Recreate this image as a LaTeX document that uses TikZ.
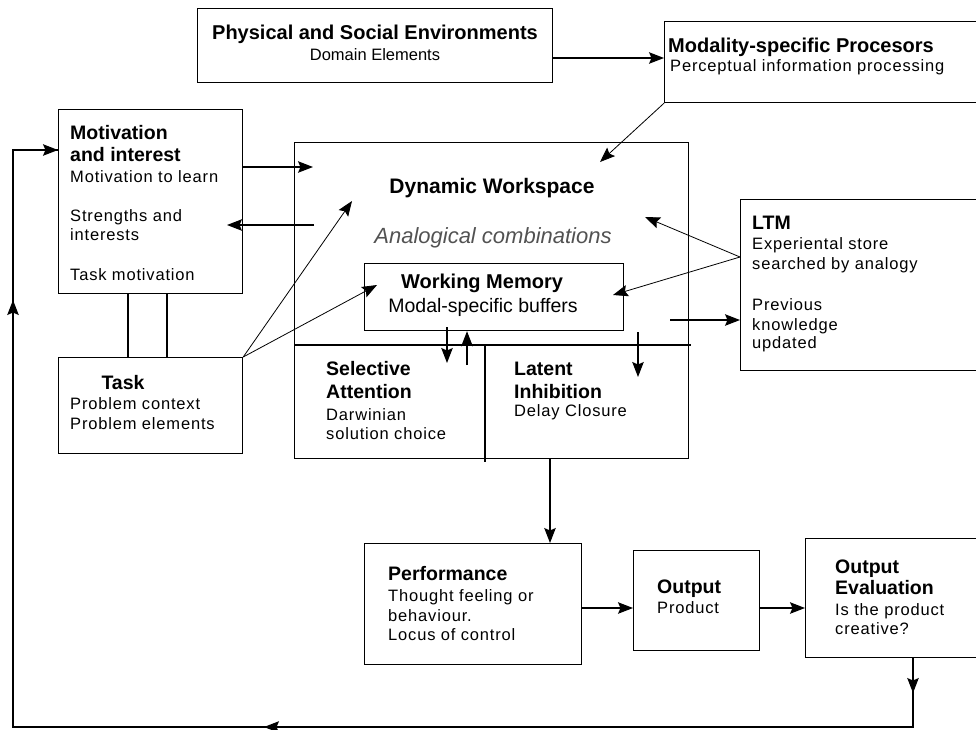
\documentclass[tikz,border=0pt]{standalone}
\usepackage{fontspec}
\setmainfont{Liberation Sans}
\newfontfamily\bodyf[LetterSpace=5]{Liberation Sans}
\usetikzlibrary{arrows.meta}
\begin{document}
\begin{tikzpicture}[x=1pt,y=-1pt,
  box/.style={draw, line width=1.2pt, inner sep=0pt, anchor=north west},
  hd/.style={font=\fontsize{19.5}{22}\selectfont\bfseries, anchor=base west, inner sep=0pt},
  bd/.style={font=\fontsize{16.5}{20}\selectfont\bodyf, anchor=base west, inner sep=0pt},
  arr/.style={-{Stealth[length=15pt,width=11.5pt,inset=2.5pt]}, line width=1.2pt},
  ln/.style={line width=1.2pt},
  diag/.style={line width=0.8pt}]
\useasboundingbox (0,0) rectangle (976,729);

% boxes
\node[box, minimum width=355pt, minimum height=74pt] (phys) at (197,8) {};
\node[box, minimum width=330pt, minimum height=81pt] (mod) at (664,21) {};
\node[box, minimum width=184pt, minimum height=184pt] (motiv) at (58,109) {};
\node[box, minimum width=184pt, minimum height=96pt] (task) at (58,357) {};
\node[box, minimum width=394pt, minimum height=316pt] (dw) at (294,142) {};
\node[box, minimum width=259pt, minimum height=67pt] (wm) at (364,263) {};
\node[box, minimum width=250pt, minimum height=171pt] (ltm) at (740,199) {};
\node[box, minimum width=217pt, minimum height=121pt] (perf) at (364,543) {};
\node[box, minimum width=126pt, minimum height=100pt] (out) at (633,550) {};
\node[box, minimum width=185pt, minimum height=119pt] (oe) at (805,538) {};

% dividers inside the workspace
\coordinate (dv1) at (294,345); \coordinate (dv2) at (691,345);
\coordinate (dv3) at (485,345); \coordinate (dv4) at (485,462);
\draw[ln] (dv1) -- (dv2);
\draw[ln] (dv3) -- (dv4);

% texts
\node[hd, anchor=base, font=\fontsize{20}{22}\selectfont\bfseries] (physT) at (375,39) {Physical and Social Environments};
\node[bd, anchor=base, font=\fontsize{16.5}{20}\selectfont] (physS) at (375,60) {Domain Elements};

\node[hd, font=\fontsize{20}{22}\selectfont\bfseries] (modT) at (668,52) {Modality-specific Procesors};
\node[bd] (modS) at (670,71) {Perceptual information processing};

\node[hd] (motT1) at (70,139) {Motivation};
\node[hd] (motT2) at (70,161) {and interest};
\node[bd] (motB1) at (70,182) {Motivation to learn};
\node[bd] (motB2) at (70,221) {Strengths and};
\node[bd] (motB3) at (70,240) {interests};
\node[bd] (motB4) at (70,280) {Task motivation};

\node[hd, anchor=base] (taskT) at (123,389) {Task};
\node[bd] (taskB1) at (70,409) {Problem context};
\node[bd] (taskB2) at (70,429) {Problem elements};

\node[hd, anchor=base, font=\fontsize{21}{24}\selectfont\bfseries] (dwT) at (492,193) {Dynamic Workspace};
\node[anchor=base, inner sep=0pt, font=\fontsize{22}{24}\selectfont\itshape, text=black!68] (dwS) at (493,243) {Analogical combinations};

\node[hd, anchor=base, font=\fontsize{20}{22}\selectfont\bfseries] (wmT) at (482,288) {Working Memory};
\node[anchor=base, inner sep=0pt, font=\fontsize{19.5}{22}\selectfont] (wmS) at (483,312) {Modal-specific buffers};

\node[hd] (selT1) at (326,375) {Selective};
\node[hd] (selT2) at (326,398) {Attention};
\node[bd] (selB1) at (326,420) {Darwinian};
\node[bd] (selB2) at (326,439) {solution choice};

\node[hd] (latT1) at (514,375) {Latent};
\node[hd] (latT2) at (514,398) {Inhibition};
\node[bd] (latB1) at (514,416) {Delay Closure};

\node[hd] (ltmT) at (752,229) {LTM};
\node[bd] (ltmB1) at (752,249) {Experiental store};
\node[bd] (ltmB2) at (752,269) {searched by analogy};
\node[bd] (ltmB3) at (752,310) {Previous};
\node[bd] (ltmB4) at (752,330) {knowledge};
\node[bd] (ltmB5) at (752,348) {updated};

\node[hd] (perfT) at (388,580) {Performance};
\node[bd] (perfB1) at (388,601) {Thought feeling or};
\node[bd] (perfB2) at (388,621) {behaviour.};
\node[bd] (perfB3) at (388,640) {Locus of control};

\node[hd] (outT) at (657,593) {Output};
\node[bd] (outB) at (657,613) {Product};

\node[hd] (oeT1) at (835,573) {Output};
\node[hd] (oeT2) at (835,594) {Evaluation};
\node[bd] (oeB1) at (835,615) {Is the product};
\node[bd] (oeB2) at (835,634) {creative?};

% connectors
\coordinate (pm) at (0,58);
\draw[arr] (phys.east |- pm) -- (mod.west |- pm);
\coordinate (mdw) at (600,162);
\draw[arr, diag] (mod.south west) -- (mdw);

\coordinate (m1) at (0,167); \coordinate (m1e) at (313,167);
\draw[arr] (motiv.east |- m1) -- (m1e);
\coordinate (m2s) at (314,225); \coordinate (m2e) at (227,225);
\draw[arr] (m2s) -- (m2e);

\coordinate (lk1) at (128,0); \coordinate (lk2) at (167,0);
\draw[ln] (motiv.south -| lk1) -- (task.north -| lk1);
\draw[ln] (motiv.south -| lk2) -- (task.north -| lk2);

\coordinate (t1) at (352,201); \coordinate (t2) at (377,285);
\draw[arr, diag] (task.north east) -- (t1);
\draw[arr, diag] (task.north east) -- (t2);

\coordinate (lpy) at (0,257);
\coordinate (l3) at (645,217); \coordinate (l4) at (613,295);
\draw[arr, diag] (ltm.west |- lpy) -- (l3);
\draw[arr, diag] (ltm.west |- lpy) -- (l4);
\coordinate (l5) at (670,320);
\draw[arr] (l5) -- (ltm.west |- l5);

\coordinate (w1) at (447,327); \coordinate (w1e) at (447,363);
\draw[arr] (w1) -- (w1e);
\coordinate (w2) at (467,365);
\draw[arr] (w2) -- (wm.south -| w2);
\coordinate (w3) at (638,332); \coordinate (w3e) at (638,377);
\draw[arr] (w3) -- (w3e);

\coordinate (dp) at (550,0);
\draw[arr] (dw.south -| dp) -- (perf.north -| dp);
\coordinate (ay) at (0,608);
\draw[arr] (perf.east |- ay) -- (out.west |- ay);
\draw[arr] (out.east |- ay) -- (oe.west |- ay);

% feedback loop
\coordinate (f0) at (913,0); \coordinate (f1) at (913,693);
\coordinate (f2) at (913,727); \coordinate (f3) at (264,727);
\coordinate (f4) at (13,727); \coordinate (f5) at (13,300);
\coordinate (f6) at (13,150);
\draw[ln, line join=miter] (oe.south -| f0) -- (f2) -- (f4) -- (f6) -- (motiv.west |- f6);
\draw[arr] (oe.south -| f0) -- (f1);
\draw[arr] (f2) -- (f3);
\draw[arr] (f4) -- (f5);
\draw[arr] (f6) -- (motiv.west |- f6);
\end{tikzpicture}
\end{document}
